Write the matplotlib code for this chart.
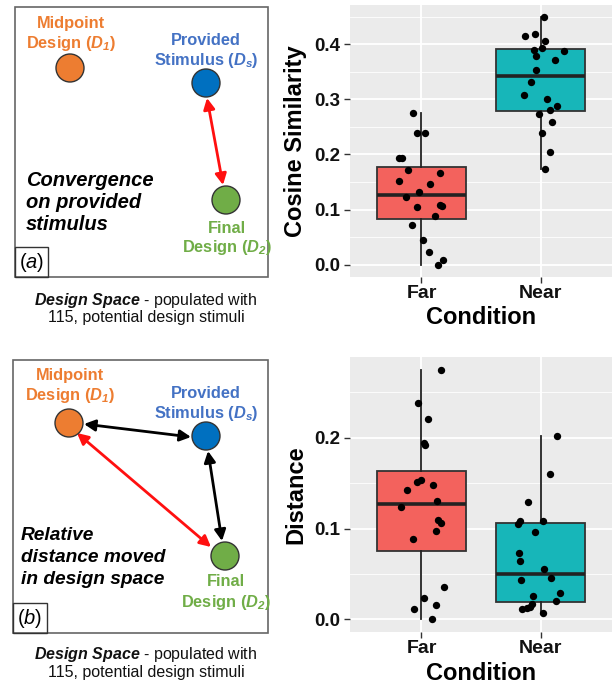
import matplotlib
matplotlib.use("Agg")
import matplotlib.pyplot as plt
from matplotlib.patches import Circle, Rectangle, FancyArrowPatch
from matplotlib.ticker import MultipleLocator
import numpy as np

plt.rcParams['font.family'] = ['Liberation Sans', 'DejaVu Sans']
plt.rcParams['mathtext.fontset'] = 'custom'
plt.rcParams['mathtext.rm'] = 'Liberation Sans'
plt.rcParams['mathtext.it'] = 'Liberation Sans:italic'
plt.rcParams['mathtext.bf'] = 'Liberation Sans:bold'
plt.rcParams['mathtext.bfit'] = 'Liberation Sans:bold:italic'

# ---------------- data ----------------
conditions = ["Far", "Near"]

cos_far = [0.2748, 0.238, 0.238, 0.193, 0.194, 0.172, 0.167, 0.151, 0.147, 0.131,
           0.1226, 0.105, 0.109, 0.107, 0.0875, 0.0719, 0.044, 0.0235, 0.0, 0.0079]
cos_far_jit = [-0.07, -0.034, 0.03, -0.19, -0.16, -0.11, 0.157, -0.19, 0.07, -0.02,
               -0.13, -0.034, 0.157, 0.17, 0.11, -0.08, 0.01, 0.065, 0.137, 0.18]
cos_near = [0.4487, 0.415, 0.418, 0.4065, 0.3895, 0.393, 0.3877, 0.3786, 0.372, 0.353,
            0.332, 0.3085, 0.3007, 0.288, 0.2814, 0.273, 0.2597, 0.2397, 0.2035, 0.1727]
cos_near_jit = [0.028, -0.13, -0.048, 0.04, -0.054, 0.01, 0.2, -0.04, 0.12, -0.034,
                -0.076, -0.14, 0.05, 0.14, 0.08, -0.014, 0.095, 0.01, 0.08, 0.04]

dist_far = [0.2751, 0.2383, 0.2203, 0.1941, 0.1923, 0.151, 0.1536, 0.1422, 0.1484, 0.1308,
            0.1238, 0.1094, 0.1064, 0.0972, 0.0884, 0.0354, 0.0232, 0.0155, 0.0118, 0.0]
dist_far_jit = [0.163, -0.025, 0.052, 0.022, 0.033, -0.036, -0.005, -0.118, 0.10, 0.132,
                -0.168, 0.135, 0.163, 0.118, -0.072, 0.19, 0.025, 0.124, -0.06, 0.09]
dist_near = [0.2015, 0.1602, 0.1293, 0.1083, 0.105, 0.1083, 0.0961, 0.0737, 0.0648, 0.0552,
             0.0435, 0.0453, 0.0291, 0.0258, 0.0203, 0.0166, 0.014, 0.0122, 0.0118, 0.0074]
dist_near_jit = [0.14, 0.083, -0.107, -0.176, -0.187, 0.019, -0.05, -0.18, -0.174, 0.025,
                 -0.16, 0.088, 0.16, -0.063, 0.132, -0.069, -0.09, -0.116, -0.154, 0.019]

box_colors = ["#F3625D", "#17B6B9"]

# ---------------- figure ----------------
W, H = 612, 685
fig = plt.figure(figsize=(W / 100, H / 100), dpi=100)

# overlay for the schematic diagrams (pixel coordinates)
ov = fig.add_axes([0, 0, 1, 1])
ov.set_xlim(0, W)
ov.set_ylim(H, 0)
ov.axis('off')

orange_t, blue_t, green_t = '#ED7D31', '#4472C4', '#70AD47'
orange_f, blue_f, green_f = '#ED7D31', '#0070C0', '#70AD47'
LBL = 11.8
EDGE = '#666666'


def node(x, y, fc):
    ov.add_patch(Circle((x, y), 14, facecolor=fc, edgecolor='#333333', lw=1.0, zorder=3))


def arrow(p0, p1, color):
    ov.add_patch(FancyArrowPatch(p0, p1, arrowstyle='<|-|>,head_length=0.55,head_width=0.28',
                                 mutation_scale=12, color=color, lw=2.0, zorder=2,
                                 shrinkA=0, shrinkB=0))


def labels2(x, y, l1, l2, color, gap=20):
    ov.text(x, y, l1, color=color, fontsize=LBL, fontweight='bold', ha='center', va='center')
    ov.text(x, y + gap, l2, color=color, fontsize=LBL, fontweight='bold', ha='center', va='center')


d1 = r'Design ($\mathbfit{D}_\mathbfit{1}$)'
ds = r'Stimulus ($\mathbfit{D}_\mathbfit{s}$)'
d2 = r'Design ($\mathbfit{D}_\mathbfit{2}$)'

def caption(y):
    ov.text(146, y, r'$\mathbfit{Design\ Space}$ - populated with', fontsize=11.5,
            ha='center', va='center', color='#111111')
    ov.text(146, y + 17, '115, potential design stimuli', fontsize=11.5,
            ha='center', va='center', color='#111111')

# --- diagram (a)
ov.add_patch(Rectangle((15, 7), 253, 270, fill=False, edgecolor=EDGE, lw=1.2))
ov.add_patch(Rectangle((15, 247), 33, 30, fill=False, edgecolor='#333333', lw=1.0))
ov.text(31.5, 262, r'($\mathit{a}$)', fontsize=14.5, ha='center', va='center')
labels2(71, 23, 'Midpoint', d1, orange_t)
labels2(206, 40, 'Provided', ds, blue_t)
labels2(227, 228, 'Final', d2, green_t, gap=19)
node(70, 68, orange_f)
node(206, 83, blue_f)
node(226, 200, green_f)
arrow((207, 98), (223, 185), '#FF1010')
for i, t in enumerate(['Convergence', 'on provided', 'stimulus']):
    ov.text(26, 180 + 22 * i, t, fontsize=14.5, fontweight='bold', fontstyle='italic',
            ha='left', va='center')
caption(300)

# --- diagram (b)
ov.add_patch(Rectangle((13, 360), 255, 273, fill=False, edgecolor=EDGE, lw=1.2))
ov.add_patch(Rectangle((13, 603), 34, 30, fill=False, edgecolor='#333333', lw=1.0))
ov.text(30, 618, r'($\mathit{b}$)', fontsize=14.5, ha='center', va='center')
labels2(70, 375, 'Midpoint', d1, orange_t)
labels2(206, 393, 'Provided', ds, blue_t)
labels2(226, 581, 'Final', d2, green_t, gap=21)
node(69, 423, orange_f)
node(206, 436, blue_f)
node(225, 556, green_f)
arrow((84, 424), (191, 437), 'black')
arrow((208, 451), (222, 541), 'black')
arrow((77, 433), (211, 547), '#FF1010')
for i, t in enumerate(['Relative', 'distance moved', 'in design space']):
    ov.text(21, 535 + 22.5 * i, t, fontsize=13.8, fontweight='bold', fontstyle='italic',
            ha='left', va='center')
caption(655)


# ---------------- box plots ----------------
def ggbox(ax, far, near, far_j, near_j, ylabel, ylim, major, minor):
    ax.set_facecolor('#EBEBEB')
    for s in ax.spines.values():
        s.set_visible(False)
    ax.set_xlim(0.4, 2.6)
    ax.set_ylim(*ylim)
    ax.yaxis.set_major_locator(MultipleLocator(major))
    ax.yaxis.set_minor_locator(MultipleLocator(minor))
    ax.grid(which='major', axis='y', color='white', lw=1.3, zorder=0)
    ax.grid(which='minor', axis='y', color='white', lw=0.6, zorder=0)
    ax.grid(which='major', axis='x', color='white', lw=1.3, zorder=0)
    ax.set_axisbelow(True)
    bp = ax.boxplot([far, near], positions=[1, 2], widths=0.75, patch_artist=True,
                    showfliers=False, showcaps=False, whis=1.5,
                    boxprops=dict(edgecolor='#333333', lw=1.3),
                    whiskerprops=dict(color='#222222', lw=1.3),
                    medianprops=dict(color='#222222', lw=2.6),
                    zorder=2)
    for patch, c in zip(bp['boxes'], box_colors):
        patch.set_facecolor(c)
    ax.scatter(np.array(far_j) + 1, far, s=28, color='black', zorder=4, lw=0)
    ax.scatter(np.array(near_j) + 2, near, s=28, color='black', zorder=4, lw=0)
    ax.set_xticks([1, 2])
    ax.set_xticklabels(conditions)
    ax.tick_params(axis='both', which='major', length=4, width=1.0, color='#333333')
    ax.tick_params(axis='both', which='minor', length=0)
    ax.tick_params(axis='x', labelsize=14, pad=2)
    ax.tick_params(axis='y', labelsize=13.5, pad=3)
    for lab in ax.get_xticklabels() + ax.get_yticklabels():
        lab.set_fontweight('bold')
        lab.set_color('#111111')
    ax.set_xlabel('Condition', fontsize=17, fontweight='bold', labelpad=3)
    ax.set_ylabel(ylabel, fontsize=17, fontweight='bold', labelpad=5)


ax1 = fig.add_axes([350 / W, 1 - 277 / H, 262 / W, 272 / H])
ggbox(ax1, cos_far, cos_near, cos_far_jit, cos_near_jit, 'Cosine Similarity',
      (-0.0224, 0.4711), 0.1, 0.05)

ax2 = fig.add_axes([350 / W, 1 - 632 / H, 262 / W, 275 / H])
ggbox(ax2, dist_far, dist_near, dist_far_jit, dist_near_jit, 'Distance',
      (-0.0138, 0.2889), 0.1, 0.05)

fig.savefig('out.png', dpi=100)
